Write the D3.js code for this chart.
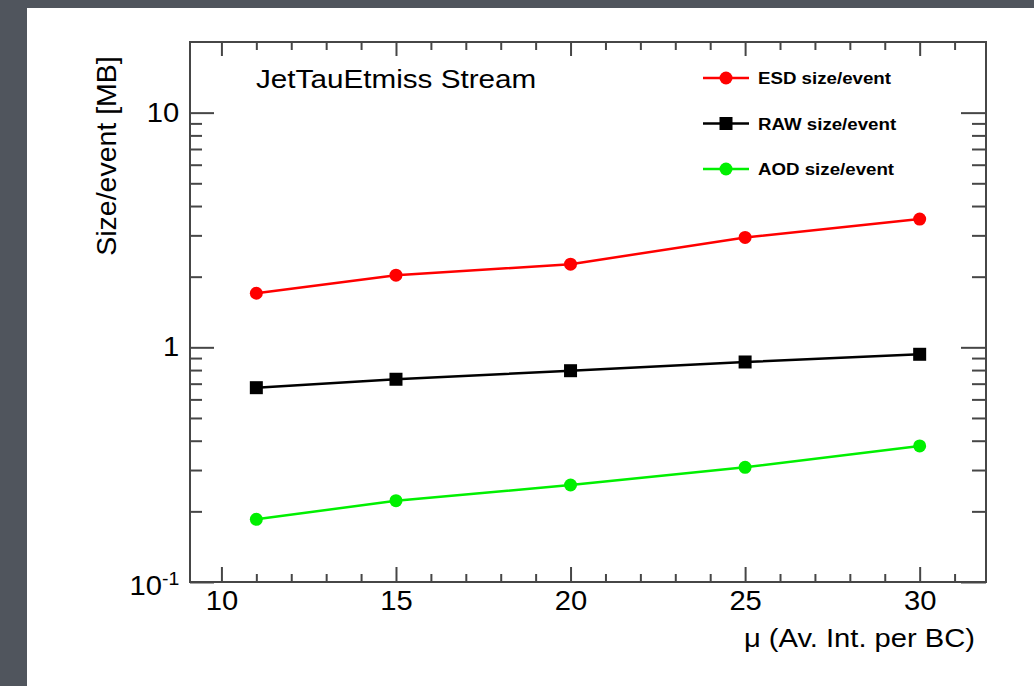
<!DOCTYPE html>
<html>
  <head>
    <title>JetTauEtmiss Stream - size per event</title>
    <meta charset="utf-8">
    <style type="text/css">
      body {
        margin: 0;
        font-family: "Liberation Sans", Arial, sans-serif;
      }
      .axis path {
        display: none;
      }
      .axis line {
        stroke: #464646;
        stroke-width: 2px;
      }
      .axis text {
        font-size: 27px;
        fill: #000;
      }
      .frame {
        fill: none;
        stroke: #464646;
        stroke-width: 2px;
      }
      .series path {
        fill: none;
        stroke-width: 2.5px;
      }
      .legend text {
        font-size: 17px;
        font-weight: bold;
        fill: #000;
      }
    </style>
  </head>
  <body>
    <script src="https://d3js.org/d3.v7.min.js"></script>
    <script>
    // data
    var mu = [11, 15, 20, 25, 30];
    var esd = [1.70, 2.03, 2.26, 2.94, 3.52];
    var raw = [0.673, 0.731, 0.795, 0.866, 0.934];
    var aod = [0.185, 0.222, 0.259, 0.308, 0.380];

    var seriesNames = ["ESD size/event", "RAW size/event", "AOD size/event"];
    var seriesColors = ["#ff0000", "#000000", "#00f000"];
    var seriesMarkers = ["circle", "square", "circle"];

    var xMajorTicks = [10, 15, 20, 25, 30];
    var xMinorTicks = [11, 12, 13, 14, 16, 17, 18, 19, 21, 22, 23, 24, 26, 27, 28, 29, 31];
    var yMajorTicks = [0.1, 1, 10];
    var yMinorTicks = [0.2, 0.3, 0.4, 0.5, 0.6, 0.7, 0.8, 0.9, 2, 3, 4, 5, 6, 7, 8, 9];

    var series = seriesNames.map(function(name, i) {
      var vals = [esd, raw, aod][i];
      return {
        name: name,
        color: seriesColors[i],
        marker: seriesMarkers[i],
        points: mu.map(function(m, j) { return {x: m, y: vals[j]}; })
      };
    });

    var W = 1034, H = 686;
    var margin = {top: 42, right: 48, bottom: 104, left: 190};
    var width = W - margin.left - margin.right,
        height = H - margin.top - margin.bottom;
    var stretch = 1.08; // the original text is a bit wider than Arial

    var x = d3.scaleLinear().domain([9.1, 31.9]).range([0, width]);
    var y = d3.scaleLog().domain([0.1, 20]).range([height, 0]);

    var svg = d3.select("body").append("svg")
        .attr("width", W)
        .attr("height", H);

    // grey slide border and white page
    svg.append("rect").attr("width", W).attr("height", H).attr("fill", "#50555d");
    svg.append("rect").attr("x", 27).attr("y", 8).attr("width", W - 27).attr("height", H - 8).attr("fill", "#fff");

    var g = svg.append("g")
        .attr("transform", "translate(" + margin.left + "," + margin.top + ")");

    // axes: ticks point inwards on all four sides
    function addAxis(axis, cls, tx, ty) {
      return g.append("g")
          .attr("class", "axis " + cls)
          .attr("transform", "translate(" + tx + "," + ty + ")")
          .call(axis);
    }

    var xb = addAxis(d3.axisBottom(x).tickValues(xMajorTicks).tickSizeInner(-15).tickSizeOuter(0).tickPadding(9), "x", 0, height);
    addAxis(d3.axisBottom(x).tickValues(xMinorTicks).tickSizeInner(-8).tickSizeOuter(0).tickFormat(""), "x minor", 0, height);
    addAxis(d3.axisTop(x).tickValues(xMajorTicks).tickSizeInner(-14).tickSizeOuter(0).tickFormat(""), "x top", 0, 0);
    addAxis(d3.axisTop(x).tickValues(xMinorTicks).tickSizeInner(-8).tickSizeOuter(0).tickFormat(""), "x top minor", 0, 0);

    var yl = addAxis(d3.axisLeft(y).tickValues(yMajorTicks).tickSizeInner(-24).tickSizeOuter(0).tickPadding(10)
        .tickFormat(function(d) { return d === 0.1 ? "10" : d3.format("d")(d); }), "y", 0, 0);
    addAxis(d3.axisLeft(y).tickValues(yMinorTicks).tickSizeInner(-12).tickSizeOuter(0).tickFormat(""), "y minor", 0, 0);
    addAxis(d3.axisRight(y).tickValues(yMajorTicks).tickSizeInner(-25).tickSizeOuter(0).tickFormat(""), "y right", width, 0);
    addAxis(d3.axisRight(y).tickValues(yMinorTicks).tickSizeInner(-14).tickSizeOuter(0).tickFormat(""), "y right minor", width, 0);

    xb.selectAll("text").attr("transform", "scale(" + stretch + ",1)");
    yl.selectAll("text").attr("transform", "scale(" + stretch + ",1)");

    // 10^-1 label
    yl.selectAll(".tick")
      .filter(function(d) { return d === 0.1; })
      .select("text")
        .attr("dy", "0.45em")
        .append("tspan")
        .attr("dy", "-0.55em")
        .style("font-size", "18px")
        .text("-1");

    g.append("rect")
        .attr("class", "frame")
        .attr("width", width)
        .attr("height", height);

    // series
    var line = d3.line()
        .x(function(d) { return x(d.x); })
        .y(function(d) { return y(d.y); });

    function drawMarker(sel, marker, color) {
      if (marker === "square") {
        sel.append("rect")
            .attr("x", -6.5).attr("y", -6.5)
            .attr("width", 13).attr("height", 13)
            .attr("fill", color);
      } else {
        sel.append("circle")
            .attr("r", 6.5)
            .attr("fill", color);
      }
    }

    var sg = g.selectAll("g.series")
        .data(series)
        .enter().append("g")
        .attr("class", "series");

    sg.append("path")
        .attr("d", function(d) { return line(d.points); })
        .style("stroke", function(d) { return d.color; });

    sg.each(function(s) {
      d3.select(this).selectAll("g.pt")
          .data(s.points)
          .enter().append("g")
          .attr("class", "pt")
          .attr("transform", function(d) { return "translate(" + x(d.x) + "," + y(d.y) + ")"; })
          .each(function() { drawMarker(d3.select(this), s.marker, s.color); });
    });

    // legend
    var legend = svg.append("g")
        .attr("class", "legend")
        .attr("transform", "translate(703,78)");

    var li = legend.selectAll("g")
        .data(series)
        .enter().append("g")
        .attr("transform", function(d, i) { return "translate(0," + (i * 45.5) + ")"; });

    li.append("line")
        .attr("x1", 0).attr("x2", 46)
        .attr("stroke", function(d) { return d.color; })
        .attr("stroke-width", 2.5);

    li.each(function(d) {
      var m = d3.select(this).append("g").attr("transform", "translate(23,0)");
      drawMarker(m, d.marker, d.color);
    });

    li.append("text")
        .attr("transform", "translate(55,6) scale(1.1,1)")
        .text(function(d) { return d.name; });

    // title and axis titles
    svg.append("text")
        .attr("transform", "translate(256,88) scale(1.12,1)")
        .style("font-size", "26.5px")
        .style("fill", "#000")
        .text("JetTauEtmiss Stream");

    svg.append("text")
        .attr("transform", "translate(975,647) scale(1.1,1)")
        .attr("text-anchor", "end")
        .style("font-size", "26.5px")
        .style("fill", "#000")
        .text("\u03bc (Av. Int. per BC)");

    svg.append("text")
        .attr("transform", "translate(116,156) rotate(-90)")
        .attr("text-anchor", "middle")
        .style("font-size", "28.5px")
        .style("fill", "#000")
        .text("Size/event [MB]");
    </script>
  </body>
</html>
